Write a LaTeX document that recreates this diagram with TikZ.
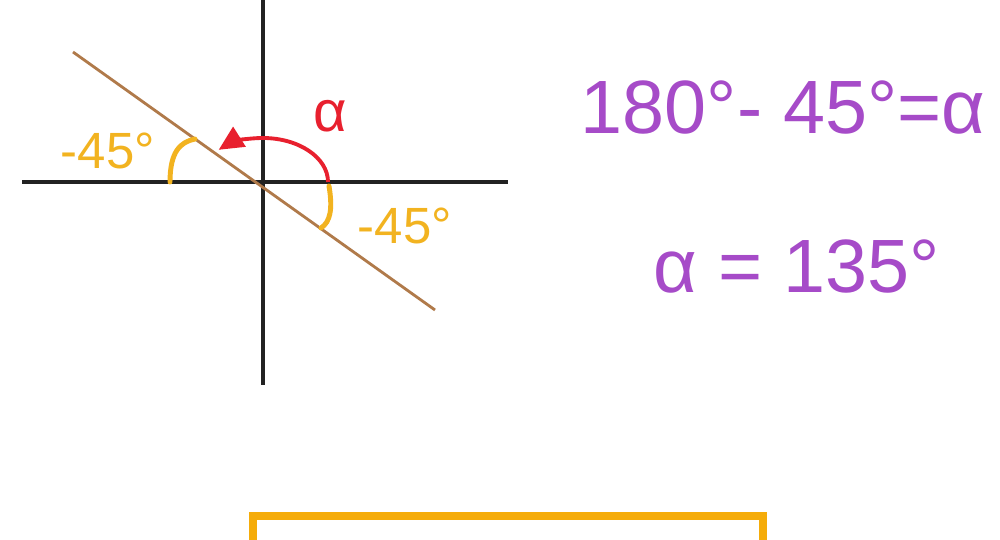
\documentclass[tikz,border=0pt]{standalone}
\usepackage{fontspec}
\setmainfont{Liberation Sans}
\usetikzlibrary{arrows.meta}
\definecolor{axiscol}{HTML}{222222}
\definecolor{linecol}{HTML}{B07A4A}
\definecolor{yel}{HTML}{F2B320}
\definecolor{redc}{HTML}{E8202E}
\definecolor{purp}{HTML}{A64BC8}
\definecolor{boxcol}{HTML}{F5AC0A}
\tikzset{
  axisline/.style={draw=axiscol, line width=2.2pt},
  slant/.style={draw=linecol, line width=1.6pt},
  yarc/.style={draw=yel, line width=2.8pt, line cap=round},
  rarc/.style={draw=redc, line width=2.2pt, -{Triangle[length=14pt,width=13pt]}},
  ylabel/.style={text=yel, font=\fontsize{29}{30}\selectfont, inner sep=0pt},
  rlabel/.style={text=redc, font=\fontsize{33}{34}\selectfont, inner sep=0pt},
  plabel/.style={text=purp, font=\fontsize{43}{44}\selectfont, inner sep=0pt},
  boxline/.style={draw=boxcol, line width=4.5pt}
}
\begin{document}
\begin{tikzpicture}[x=0.02cm, y=0.02cm]
\useasboundingbox (0,0) rectangle (1000,-540);
\clip (0,0) rectangle (1000,-540);
\fill[white] (0,0) rectangle (1000,-540);
\coordinate (O) at (263,-182);
% axes
\draw[axisline] (22,-182) -- (508,-182);
\draw[axisline] (263,0) -- (263,-385);
% slanted line
\draw[slant] (73,-52) -- (435,-310);
% yellow arcs
\draw[yarc] (170,-182) .. controls (170,-152) and (180,-142) .. (195,-139);
\draw[yarc] (329,-186) .. controls (333,-210) and (330,-222) .. (321,-228);
% red arc alpha
\draw[rarc] (328,-182) arc[start angle=0, end angle=133, x radius=65, y radius=44];
% labels
\node[ylabel] (l1) at (108,-151) {-45°};
\node[ylabel] (l2) at (405,-226) {-45°};
\node[rlabel] (al) at (330,-116) {α};
\node[plabel] (e1) at (783,-107) {180°- 45°=α};
\node[plabel] (e2) at (797,-266) {α = 135°};
% orange box
\draw[boxline] (253,-560) -- (253,-516) -- (763,-516) -- (763,-560);
\end{tikzpicture}
\end{document}
